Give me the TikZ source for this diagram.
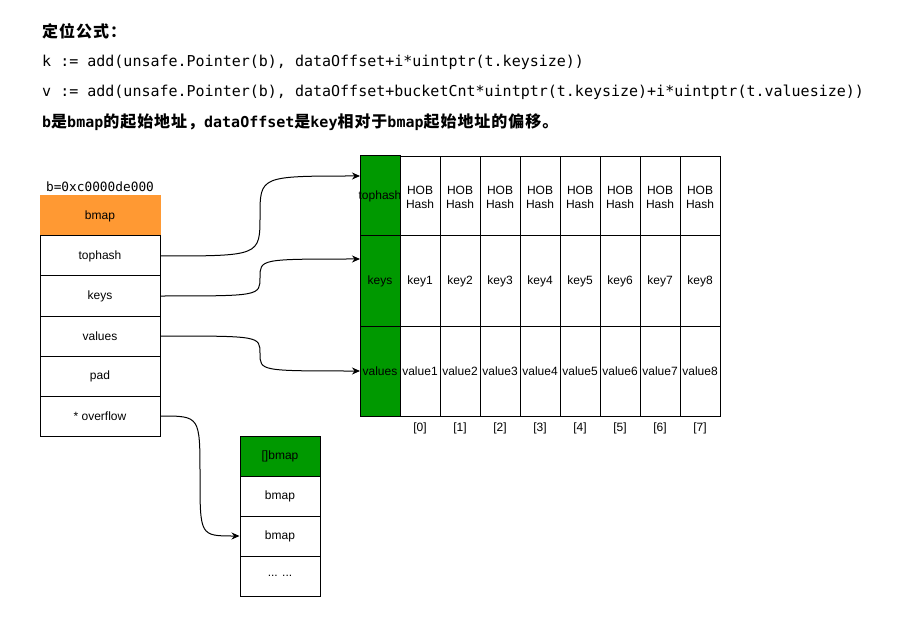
\documentclass[tikz,border=0pt]{standalone}
\usepackage{fontspec}
\setmainfont{Liberation Sans}
\newfontfamily\mono{DejaVu Sans Mono}
\newfontfamily\cjk{Noto Sans CJK SC}[LetterSpace=6]
\usetikzlibrary{arrows.meta}
\definecolor{orng}{RGB}{255,153,51}
\definecolor{grn}{RGB}{0,153,0}
\newcommand{\zh}[1]{{\cjk\bfseries\fontsize{16}{18}\selectfont #1}}
\newcommand{\en}[1]{{\mono\bfseries\fontsize{15}{18}\selectfont #1}}
\begin{document}
\begin{tikzpicture}[x=1pt,y=-1pt,
  cell/.style={draw=black,line width=1pt,fill=white,inner sep=0pt,font=\fontsize{12}{14}\selectfont,align=center},
  lcell/.style={cell,minimum width=120pt,minimum height=40pt},
  scell/.style={cell,minimum width=80pt,minimum height=40pt},
  tcell/.style={cell,minimum width=40pt},
  gcell/.style={tcell,fill=grn},
  idx/.style={inner sep=0pt,font=\fontsize{12}{14}\selectfont},
  txt/.style={inner sep=0pt,anchor=west},
  conn/.style={line width=1pt,-{Stealth[length=8pt,width=7pt]}}]
\useasboundingbox (0,0) rectangle (901,617);
% header text
\node[txt] (title) at (42,31) {\zh{定位公式：}};
\node[txt] (kline) at (42,62) {\mono\fontsize{15}{18}\selectfont k := add(unsafe.Pointer(b), dataOffset+i*uintptr(t.keysize))};
\node[txt] (vline) at (42,92) {\mono\fontsize{15}{18}\selectfont v := add(unsafe.Pointer(b), dataOffset+bucketCnt*uintptr(t.keysize)+i*uintptr(t.valuesize))};
\node[txt] (bline) at (42,122) {\en{b}\zh{是}\en{bmap}\zh{的起始地址，}\en{dataOffset}\zh{是}\en{key}\zh{相对于}\en{bmap}\zh{起始地址的偏移。}};
% left bmap struct
\node[inner sep=0pt,font=\mono\fontsize{12.8}{14}\selectfont] (addr) at (100,187) {b=0xc0000de000};
\node[lcell,fill=orng,draw=orng] (bmap) at (100,216) {\raisebox{-1.5pt}{bmap}};
\node[lcell] (th) at (100,256) {\raisebox{-1.5pt}{tophash}};
\node[lcell] (ks) at (100,296) {\raisebox{-1.5pt}{keys}};
\node[lcell] (vs) at (100,336) {\raisebox{-1.5pt}{values}};
\node[lcell] (pad) at (100,376) {\raisebox{-1.5pt}{pad}};
\node[lcell] (of) at (100,416) {\raisebox{-1.5pt}{* overflow}};
% right table
\node[gcell,minimum height=80pt] (gth) at (380,196) {\hspace*{-4pt}tophash\hspace*{-4pt}};
\node[gcell,minimum height=90pt] (gks) at (380,281) {\raisebox{-1.5pt}{keys}};
\node[gcell,minimum height=90pt] (gvs) at (380,371) {\hspace*{-4pt}\raisebox{-1.5pt}{values}\hspace*{-4pt}};
\foreach \i in {1,...,8} {
  \pgfmathtruncatemacro{\j}{\i-1}
  \node[tcell,minimum height=80pt] (h\i) at (380+40*\i,197) {HOB\\Hash};
  \node[tcell,minimum height=90pt] (k\i) at (380+40*\i,281) {\raisebox{-1.5pt}{key\i}};
  \node[tcell,minimum height=90pt] (v\i) at (380+40*\i,371) {\hspace*{-4pt}\raisebox{-1.5pt}{value\i}\hspace*{-4pt}};
  \node[idx] (x\i) at (380+40*\i,428) {[\j]};
}
% overflow stack
\node[scell,fill=grn] (ob) at (280,456) {\raisebox{-1.5pt}{[]bmap}};
\node[scell] (o1) at (280,496) {\raisebox{-1.5pt}{bmap}};
\node[scell] (o2) at (280,536) {\raisebox{-1.5pt}{bmap}};
\node[scell] (o3) at (280,576) {\raisebox{-1.5pt}{... ...}};
% connectors
\coordinate (thin) at (360,176);
\coordinate (ksin) at (360,259);
\coordinate (vsin) at (360,371);
\draw[conn] (th.east) .. controls (260,256) .. (260,216) .. controls (260,176) .. (thin);
\draw[conn] (ks.east) .. controls (260,296) .. (260,277.5) .. controls (260,259) .. (ksin);
\draw[conn] (vs.east) .. controls (260,336) .. (260,353.5) .. controls (260,371) .. (vsin);
\draw[conn] (of.east) .. controls (200,416) .. (200,476) .. controls (200,536) .. (o2.west);
\end{tikzpicture}
\end{document}
